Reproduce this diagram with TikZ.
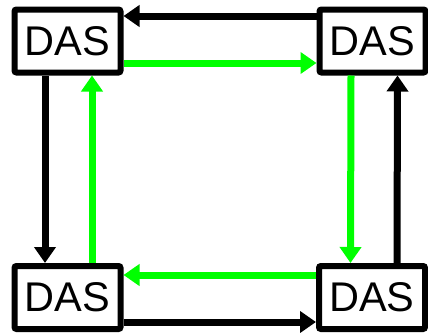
\documentclass[tikz,border=0pt]{standalone}
\usepackage{fontspec}
\setmainfont{Liberation Sans}
\usetikzlibrary{arrows.meta}
\definecolor{grn}{RGB}{0,255,0}
\tikzset{
  dasbox/.style={draw=black, fill=white, line width=6pt, rounded corners=2pt,
    minimum width=106pt, minimum height=63pt, inner sep=0pt,
    font=\fontsize{41.5}{41.5}\selectfont},
  conn/.style={line width=7pt, -{Triangle[length=16pt,width=21pt]}},
  blk/.style={conn, draw=black},
  gr/.style={conn, draw=grn},
}
\begin{document}
\begin{tikzpicture}[x=1pt,y=-1pt]
\useasboundingbox (0,0) rectangle (428,332);
\node[dasbox] (TL) at (67.5,41) {DAS};
\node[dasbox] (TR) at (372.5,41) {DAS};
\node[dasbox] (BL) at (67.5,297.5) {DAS};
\node[dasbox] (BR) at (372,297.5) {DAS};
% top
\draw[blk] ([yshift=25pt]TR.west) -- ([yshift=25pt]TL.east);
\draw[gr] ([yshift=-22pt]TL.east) -- ([yshift=-22pt]TR.west);
% left
\draw[blk] ([xshift=-22.5pt]TL.south) -- ([xshift=-22.5pt]BL.north);
\draw[gr] ([xshift=24.5pt]BL.north) -- ([xshift=24.5pt]TL.south);
% right
\draw[gr] ([xshift=-21.5pt]TR.south) -- ([xshift=-21.5pt]BR.north);
\draw[blk] ([xshift=25pt]BR.north) -- ([xshift=25pt]TR.south);
% bottom
\draw[gr] ([yshift=22.5pt]BR.west) -- ([yshift=22.5pt]BL.east);
\draw[blk] ([yshift=-24.5pt]BL.east) -- ([yshift=-24.5pt]BR.west);
\end{tikzpicture}
\end{document}
